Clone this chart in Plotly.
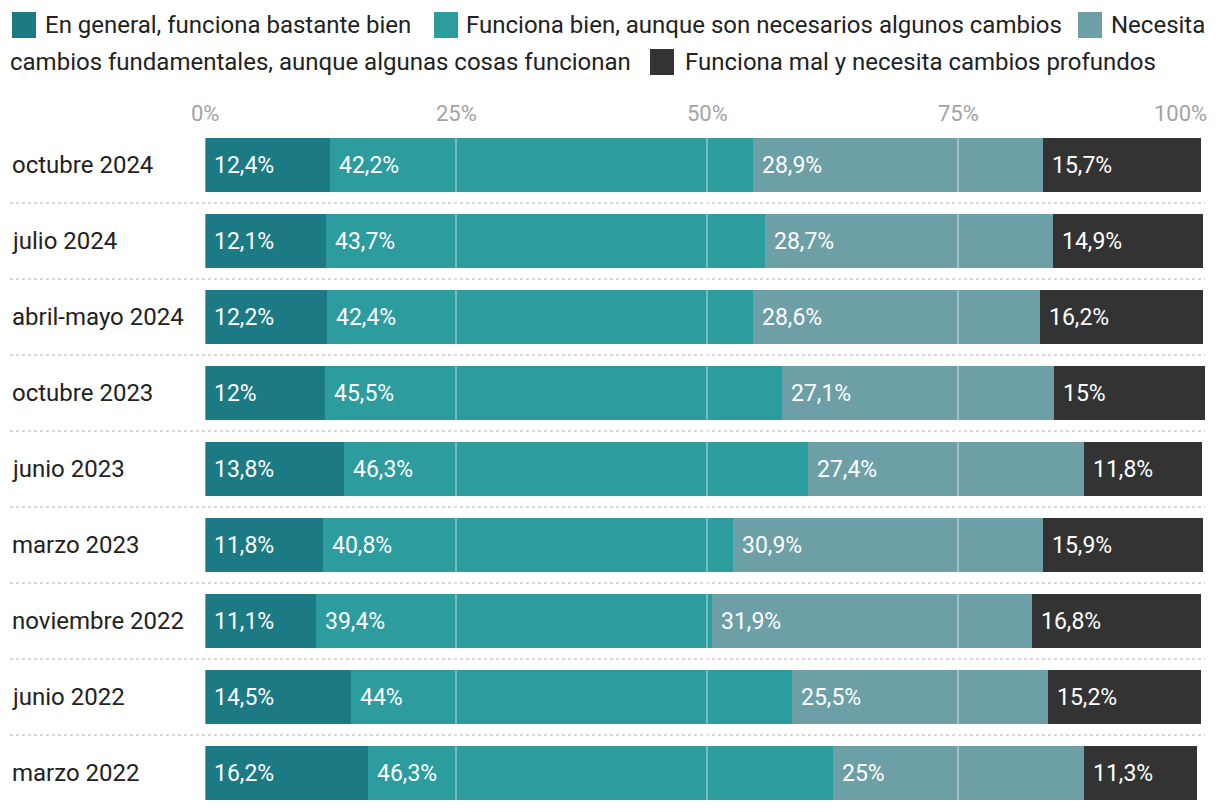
import plotly.graph_objects as go

categories = ["octubre 2024", "julio 2024", "abril-mayo 2024", "octubre 2023", "junio 2023",
              "marzo 2023", "noviembre 2022", "junio 2022", "marzo 2022"]
series_names = ["En general, funciona bastante bien",
                "Funciona bien, aunque son necesarios algunos cambios",
                "Necesita cambios fundamentales, aunque algunas cosas funcionan",
                "Funciona mal y necesita cambios profundos"]
bien = [12.4, 12.1, 12.2, 12, 13.8, 11.8, 11.1, 14.5, 16.2]
bien_cambios = [42.2, 43.7, 42.4, 45.5, 46.3, 40.8, 39.4, 44, 46.3]
fundamentales = [28.9, 28.7, 28.6, 27.1, 27.4, 30.9, 31.9, 25.5, 25]
mal = [15.7, 14.9, 16.2, 15, 11.8, 15.9, 16.8, 15.2, 11.3]
tick_vals = [0, 25, 50, 75, 100]
tick_text = ["0%", "25%", "50%", "75%", "100%"]
colors = ["#1b7a84", "#2c9c9f", "#6d9fa6", "#333333"]

series = [bien, bien_cambios, fundamentales, mal]

OFF = 8  # page body margin
W, H = 1220, 812
# plot area in screen pixels: x 205..1209, y 127..811
ML = 205 - OFF
MT = 127 - OFF
PW = 1004
PH = 684
MR = W - ML - PW
MB = H - MT - PH
FONT = "Roboto"


def px(x):
    return (x - OFF - ML) / PW


def py(y):
    return (MT + PH - (y - OFF)) / PH


fig = go.Figure()
for name, vals, col in zip(series_names, series, colors):
    fig.add_trace(go.Bar(y=categories, x=vals, orientation="h", name=name,
                         marker=dict(color=col, line=dict(width=0)),
                         showlegend=False, hoverinfo="x+y"))

annotations = []
shapes = []


def fmt(v):
    s = ("%g" % v).replace(".", ",")
    return s + "%"


# data labels
for i, cat in enumerate(categories):
    start = 0
    for vals in series:
        v = vals[i]
        annotations.append(dict(x=start, y=cat, xref="x", yref="y", text=fmt(v),
                                showarrow=False, xanchor="left", yanchor="middle",
                                xshift=7, font=dict(family=FONT, size=23, color="white")))
        start += v
    # category labels
    annotations.append(dict(x=px(10), y=cat, xref="paper", yref="y", text=cat,
                            showarrow=False, xanchor="left", yanchor="middle",
                            font=dict(family=FONT, size=24, color="#222222")))

# top axis labels
for v, t in zip(tick_vals, tick_text):
    anchor = "right" if v == 100 else "center"
    annotations.append(dict(x=v, y=py(114), xref="x", yref="paper", text=t,
                            showarrow=False, xanchor=anchor, yanchor="middle",
                            xshift=0 if v == 100 else 0,
                            font=dict(family=FONT, size=22, color="#a3a3a3")))

# gridlines above bars
for v in tick_vals[:-1]:
    shapes.append(dict(type="line", xref="x", yref="paper", x0=v, x1=v, y0=0, y1=1,
                       layer="above", line=dict(color="rgba(255,255,255,0.45)", width=1.5)))

# dotted separators
for i in range(len(categories) - 1):
    shapes.append(dict(type="line", xref="paper", yref="y", x0=px(10), x1=px(1205),
                       y0=i + 0.5, y1=i + 0.5, layer="below",
                       line=dict(color="#cccccc", width=1.5, dash="dot")))

# manual legend
legend_items = [
    (12, 25, 43, series_names[0]),
    (434, 25, 464, series_names[1]),
    (1078, 25, 1109, "Necesita"),
    (650, 62, 683, "Funciona mal y necesita cambios profundos"),
]
for (sx, cy, tx, txt), col in zip(legend_items, colors):
    shapes.append(dict(type="rect", xref="paper", yref="paper",
                       x0=px(sx), x1=px(sx + 24), y0=py(cy - 13), y1=py(cy + 13),
                       fillcolor=col, line=dict(width=0)))
    annotations.append(dict(x=px(tx), y=py(cy), xref="paper", yref="paper", text=txt,
                            showarrow=False, xanchor="left", yanchor="middle",
                            font=dict(family=FONT, size=24, color="#222222")))
annotations.append(dict(x=px(8), y=py(62), xref="paper", yref="paper",
                        text="cambios fundamentales, aunque algunas cosas funcionan",
                        showarrow=False, xanchor="left", yanchor="middle",
                        font=dict(family=FONT, size=24, color="#222222")))

fig.update_layout(
    width=W, height=H, barmode="stack", bargap=0.29,
    margin=dict(l=ML, r=MR, t=MT, b=MB),
    paper_bgcolor="white", plot_bgcolor="white",
    font=dict(family=FONT),
    xaxis=dict(range=[0, 100], showgrid=False, zeroline=False, showticklabels=False,
               fixedrange=True),
    yaxis=dict(categoryorder="array", categoryarray=categories, range=[8.5, -0.5],
               showgrid=False, zeroline=False, showticklabels=False),
    annotations=annotations, shapes=shapes,
)

fig.write_html("out.html")
